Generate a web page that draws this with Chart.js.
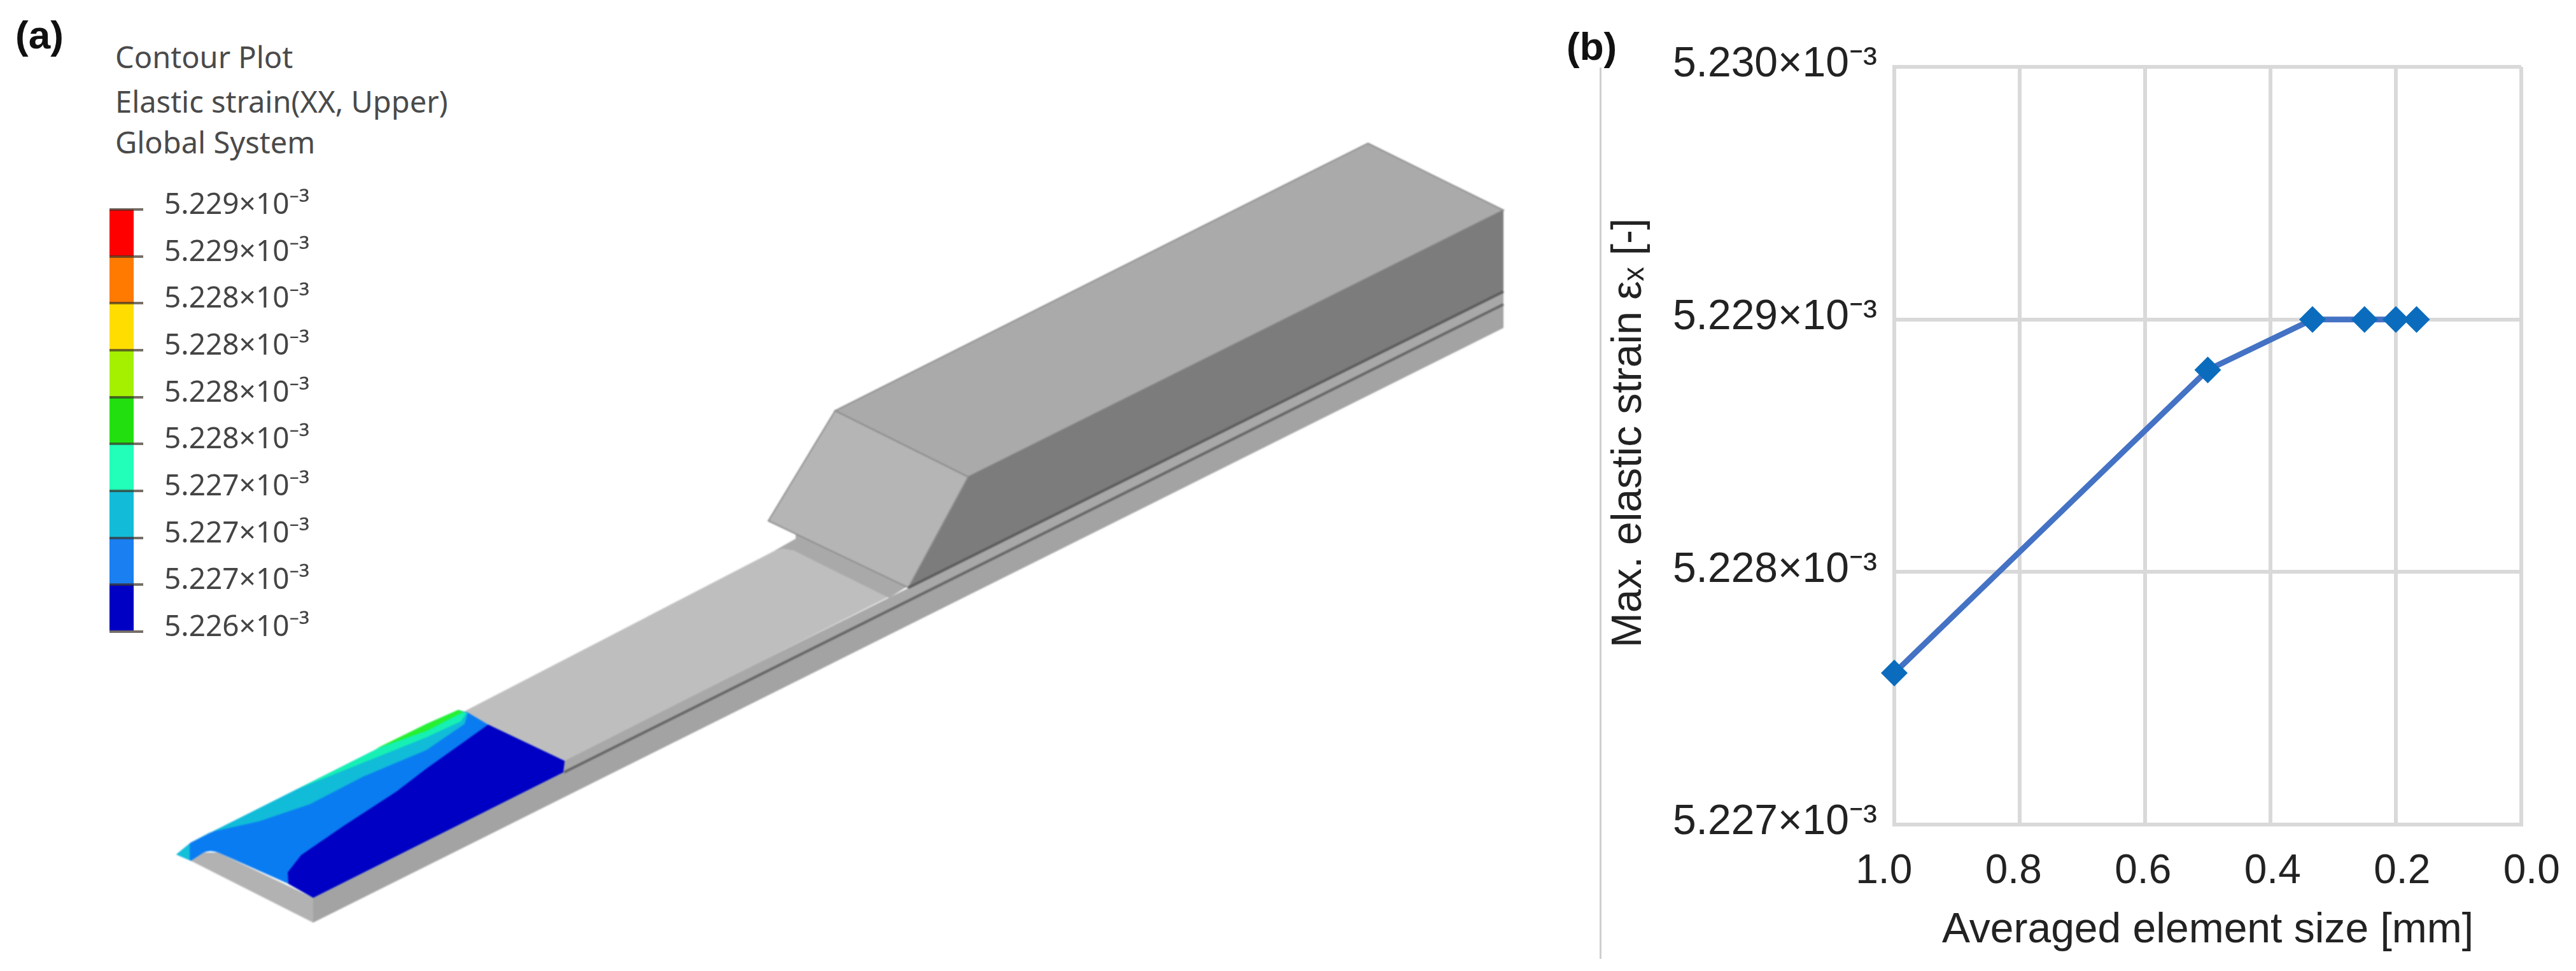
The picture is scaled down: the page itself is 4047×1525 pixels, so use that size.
<!DOCTYPE html>
<html><head><meta charset="utf-8">
<script src="https://cdn.jsdelivr.net/npm/chart.js@4"></script>
<style>
html,body{margin:0;padding:0;background:#fff;width:4047px;height:1525px;overflow:hidden}
.t{position:absolute;white-space:nowrap;line-height:1}
.sans{font-family:"Noto Sans","Open Sans",sans-serif;color:#4a4a4a;font-size:47px}
.lab{font-family:"Liberation Sans",Arial,sans-serif;font-weight:bold;font-size:62px;color:#111}
canvas{position:absolute}
#model{position:absolute;left:0;top:0;filter:blur(1.2px)}
#sep{position:absolute;left:2513px;top:106px;width:3px;height:1400px;background:#cfcfcf}
</style></head><body>
<svg id="model" width="4047" height="1525" viewBox="0 0 4047 1525">
  <!-- illustration of the meshed part (not chart data) -->
  <polygon points="492,1410 885,1213 2362,478 2362,515 492,1449" fill="#a3a3a3"/>
  <polygon points="300,1352 320,1339 343,1339 492,1410 492,1449" fill="#b2b2b2"/>
  <polygon points="886,1193 2362,458 2362,478 886,1213" fill="#a8a8a8"/>
  <line x1="886" y1="1213" x2="2362" y2="478" stroke="#666" stroke-width="4"/>
  <polygon points="730,1117 1215,866 1230,862 1247,865 1397,937 887,1195 767,1138" fill="#bebebe"/>
  <polygon points="1215,866 1250,846 1250,836 1430,918 1397,939 1247,865 1230,862" fill="#a9a9a9"/>
  <polygon points="2149,225 2362,330 1521,749 1312,645" fill="#aaaaaa" stroke="#8e8e8e" stroke-width="2"/>
  <polygon points="2362,330 2362,458 1427,923 1521,749" fill="#7c7c7c"/>
  <polygon points="1312,645 1521,749 1427,923 1207,818" fill="#b5b5b5" stroke="#8e8e8e" stroke-width="2"/>
  <line x1="1427" y1="923" x2="2362" y2="458" stroke="#5c5c5c" stroke-width="4"/>
  <!-- contour bands -->
  <path d="M277,1342 L300,1323 L720,1115 L735,1119 L767,1138 L887,1195 L885,1213 L492,1410 L453,1388 L343,1339 Q330,1334 320,1339 L300,1352 Z" fill="#0a7cf2"/>
  <polygon points="300,1323 670,1137 720,1115 735,1120 730,1137 670,1178 570,1220 487,1263 407,1290 330,1307" fill="#10bcd8"/>
  <polygon points="470,1238 670,1137 720,1115 733,1120 724,1133 670,1158" fill="#16f0b4"/>
  <polygon points="590,1176 670,1137 720,1115 728,1118 670,1148" fill="#26f030"/>
  <polygon points="277,1342 298,1325 298,1351" fill="#12c0d8"/>
  <polygon points="452,1370 473,1343 540,1297 623,1243 670,1207 767,1138 887,1195 885,1213 492,1410 453,1388" fill="#0000c4"/>
</svg>
<div class="t lab" style="left:24px;top:24px">(a)</div>
<div class="t sans" style="left:181px;top:66px">Contour Plot</div>
<div class="t sans" style="left:181px;top:136px">Elastic strain(XX, Upper)</div>
<div class="t sans" style="left:181px;top:200px">Global System</div>
<div class="t lab" style="left:2461px;top:42px">(b)</div>
<div id="sep"></div>
<canvas id="bar" style="left:120px;top:280px" width="380" height="760"></canvas>
<canvas id="line" style="left:2520px;top:0" width="1527" height="1525"></canvas>
<script>
const elementSize = [1.0, 0.5, 0.333, 0.25, 0.2, 0.167];
const maxStrain = [5.2276e-3, 5.2288e-3, 5.229e-3, 5.229e-3, 5.229e-3, 5.229e-3];
const strainTicks = {"5.227":"5.227×10⁻³","5.228":"5.228×10⁻³","5.229":"5.229×10⁻³","5.230":"5.230×10⁻³"};
const xTitle = "Averaged element size [mm]";
const yTitle = "Max. elastic strain εₓ [-]";
const legendLabels = ["5.226×10⁻³","5.227×10⁻³","5.227×10⁻³","5.227×10⁻³","5.228×10⁻³","5.228×10⁻³","5.228×10⁻³","5.228×10⁻³","5.229×10⁻³","5.229×10⁻³"];
const legendColors = ["#0000c4","#1a7ff0","#12bcd8","#22ffb8","#22e010","#a4f000","#ffdd00","#ff7a00","#ff0000"];

Chart.defaults.animation = false;
Chart.defaults.responsive = false;
Chart.defaults.plugins.legend.display = false;
Chart.defaults.plugins.tooltip.enabled = false;

const shiftLabels = (scale, fn) => {
  for (const it of scale.getLabelItems()) {
    if (it._n) continue; it._n = true;
    fn(it.options.translation);
  }
};

/* Colour bar */
new Chart(document.getElementById('bar'), {
  type: 'bar',
  data: { labels: [''], datasets: legendColors.map((c) => ({ data: [1], backgroundColor: c, categoryPercentage: 1, barPercentage: 1 })) },
  plugins: [{ id: 'nudgeBar', beforeDraw(chart) { shiftLabels(chart.scales.y, (t) => { t[1] -= 6; }); } }],
  options: {
    layout: { padding: { left: 52, top: 49, bottom: 48, right: 0 } },
    scales: {
      x: { stacked: true, display: false },
      y: {
        stacked: true, position: 'right', min: 0, max: 9,
        afterFit(s) { s.width = 290; s.paddingTop = 0; s.paddingBottom = 0; },
        border: { display: false },
        grid: { color: 'rgba(60,50,40,0.7)', lineWidth: 4, tickLength: 15, z: 1 },
        ticks: { stepSize: 1, padding: 33, color: '#444', font: { family: '"Noto Sans","Open Sans",sans-serif', size: 46 },
          callback: (v) => legendLabels[v] }
      }
    }
  }
});

/* Panel (b) */
const nudgeLabels = {
  id: 'nudgeLabels',
  beforeDraw(chart) {
    const sx = chart.scales.x, sy = chart.scales.y, cx = (sx.left + sx.right) / 2;
    shiftLabels(sx, (t) => { t[0] += (t[0] - cx) * 0.033; });
    shiftLabels(sy, (t) => { t[1] -= 3; });
    if (!sy._titleShifted) {
      sy._titleShifted = true;
      const draw = sy.drawTitle;
      sy.drawTitle = function () { const c = this.ctx; c.save(); c.translate(0, -20); draw.call(this); c.restore(); };
    }
  }
};
new Chart(document.getElementById('line'), {
  type: 'scatter',
  data: { datasets: [{
    data: elementSize.map((x, i) => ({ x, y: maxStrain[i] })),
    showLine: true, borderColor: '#4472c4', borderWidth: 9,
    pointStyle: 'rectRot', pointRadius: 21, pointBackgroundColor: '#0b6cbd', pointBorderColor: '#0b6cbd', pointBorderWidth: 0, clip: false
  }] },
  plugins: [nudgeLabels],
  options: {
    layout: { padding: { left: 0, top: 105, right: 86, bottom: 0 } },
    scales: {
      x: {
        type: 'linear', reverse: true, min: 0, max: 1,
        afterFit(s) { s.height = 230; },
        border: { color: '#d9d9d9', width: 6 },
        grid: { color: '#d9d9d9', lineWidth: 6, drawTicks: false },
        ticks: { stepSize: 0.2, padding: 36, color: '#222', font: { family: '"Liberation Sans",Arial,sans-serif', size: 64 }, callback: (v) => v.toFixed(1) },
        title: { display: true, text: xTitle, color: '#222', padding: { top: 14, bottom: 24 }, font: { family: '"Liberation Sans",Arial,sans-serif', size: 66 } }
      },
      y: {
        type: 'linear', min: 5.227e-3, max: 5.230e-3,
        afterFit(s) { s.width = 456; },
        afterBuildTicks(s) { s.ticks = Object.keys(strainTicks).map((k) => ({ value: parseFloat(k) * 1e-3 })); },
        border: { color: '#d9d9d9', width: 6 },
        grid: { color: '#d9d9d9', lineWidth: 6, drawTicks: false },
        ticks: { padding: 27, color: '#222', font: { family: '"Liberation Sans",Arial,sans-serif', size: 66 },
          callback: (v) => strainTicks[(v * 1e3).toFixed(3)] },
        title: { display: true, text: yTitle, color: '#222', padding: { top: 0, bottom: 8 }, font: { family: '"Liberation Sans",Arial,sans-serif', size: 66 } }
      }
    }
  }
});
</script>
</body></html>
